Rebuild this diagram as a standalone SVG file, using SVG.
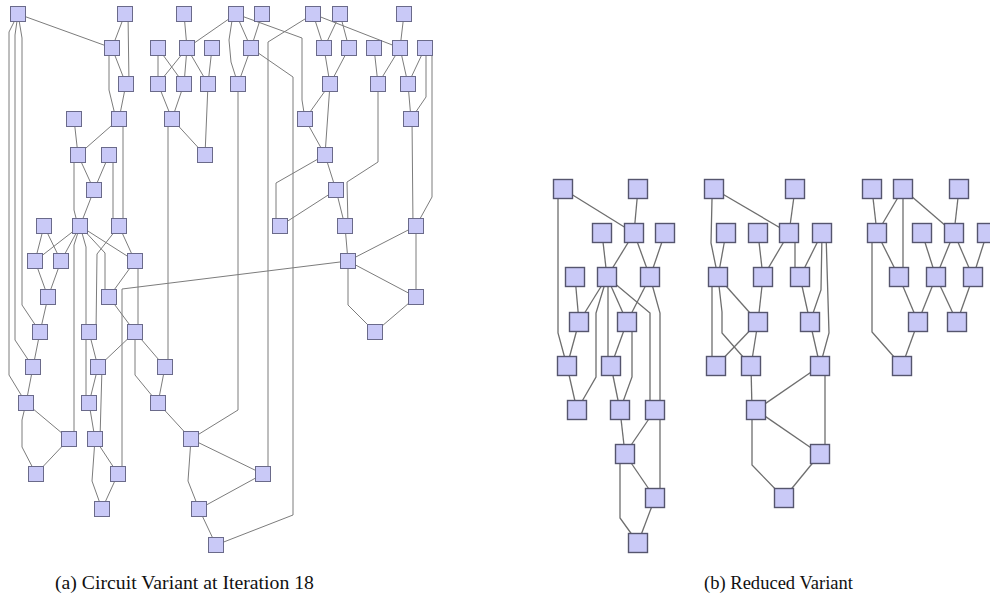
<svg xmlns="http://www.w3.org/2000/svg" width="990" height="609" viewBox="0 0 990 609">
<style>
.e{fill:none;stroke:#7c7c7c;stroke-width:1}
.eb{fill:none;stroke:#6e6e6e;stroke-width:1.3}
.n rect{fill:#c9c9f7;stroke:#6a6a8a;stroke-width:1}
.m rect{fill:#c9c9f7;stroke:#55556e;stroke-width:1.4}
.cap{font-family:"Liberation Serif","DejaVu Serif",serif;font-size:19px;fill:#111}
</style>
<rect width="990" height="609" fill="#fff"/>
<g id="edges-a" class="e">
<polyline points="18,14 112,48"/>
<polyline points="125,14 112,48"/>
<polyline points="128,14 129,84"/>
<polyline points="112,48 126,84"/>
<polyline points="109,48 109,90 116,119"/>
<polyline points="126,84 119,119"/>
<polyline points="74,119 78,155"/>
<polyline points="119,119 78,155"/>
<polyline points="123,119 123,226"/>
<polyline points="78,155 94,190"/>
<polyline points="109,155 94,190"/>
<polyline points="74,155 74,210 78,226"/>
<polyline points="113,155 113,226"/>
<polyline points="94,190 80,226"/>
<polyline points="184,14 187,48"/>
<polyline points="236,14 187,48"/>
<polyline points="236,14 251,48"/>
<polyline points="262,14 251,48"/>
<polyline points="233,14 229,40 231,62 238,84"/>
<polyline points="236,14 302,38 302,100 305,119"/>
<polyline points="313,14 268,42 268,474"/>
<polyline points="313,14 324,48"/>
<polyline points="340,14 324,48"/>
<polyline points="340,14 349,48"/>
<polyline points="313,14 400,48"/>
<polyline points="158,48 158,84"/>
<polyline points="158,48 184,84"/>
<polyline points="187,48 158,84"/>
<polyline points="187,48 184,84"/>
<polyline points="187,48 208,84"/>
<polyline points="212,48 208,84"/>
<polyline points="251,48 238,84"/>
<polyline points="251,48 293,77 293,515 216,545"/>
<polyline points="158,84 172,119"/>
<polyline points="184,84 172,119"/>
<polyline points="172,119 205,155"/>
<polyline points="208,84 205,155"/>
<polyline points="168,119 168,367"/>
<polyline points="238,84 238,410 191,439"/>
<polyline points="324,48 330,84"/>
<polyline points="349,48 330,84"/>
<polyline points="330,84 305,119"/>
<polyline points="330,84 325,155"/>
<polyline points="305,119 325,155"/>
<polyline points="325,155 336,190"/>
<polyline points="325,155 276,183 276,226"/>
<polyline points="336,190 280,226"/>
<polyline points="336,190 345,226"/>
<polyline points="374,48 378,84"/>
<polyline points="400,48 378,84"/>
<polyline points="404,14 400,48"/>
<polyline points="400,48 408,84"/>
<polyline points="425,48 408,84"/>
<polyline points="426,48 426,97 411,119"/>
<polyline points="408,84 411,119"/>
<polyline points="432,48 432,197 416,226"/>
<polyline points="412,119 413,226"/>
<polyline points="378,84 378,162 347,182 348,226"/>
<polyline points="345,226 348,261"/>
<polyline points="416,226 348,261"/>
<polyline points="416,226 416,297"/>
<polyline points="348,261 416,297"/>
<polyline points="348,261 348,305 375,332"/>
<polyline points="416,297 375,332"/>
<polyline points="348,261 122,289 122,474"/>
<polyline points="44,226 35,261"/>
<polyline points="44,226 61,261"/>
<polyline points="80,226 35,261"/>
<polyline points="80,226 61,261"/>
<polyline points="80,226 135,261"/>
<polyline points="80,226 74,245 74,431 69,439"/>
<polyline points="80,226 86,247 86,403"/>
<polyline points="80,226 105,253 105,297"/>
<polyline points="119,226 135,261"/>
<polyline points="119,226 97,254 96,332"/>
<polyline points="35,261 48,297"/>
<polyline points="61,261 48,297"/>
<polyline points="48,297 40,332"/>
<polyline points="40,332 33,367"/>
<polyline points="33,367 26,403"/>
<polyline points="26,403 69,439"/>
<polyline points="26,403 22,420 22,447 36,474"/>
<polyline points="69,439 36,474"/>
<polyline points="18,14 9,32 9,375 26,403"/>
<polyline points="18,14 15,35 15,340 33,367"/>
<polyline points="18,14 22,38 22,305 40,332"/>
<polyline points="135,261 109,297"/>
<polyline points="138,261 138,332"/>
<polyline points="109,297 135,332"/>
<polyline points="89,332 98,367"/>
<polyline points="135,332 98,367"/>
<polyline points="135,332 165,367"/>
<polyline points="135,332 135,375 158,403"/>
<polyline points="98,367 89,403"/>
<polyline points="102,367 100,439"/>
<polyline points="89,403 95,439"/>
<polyline points="95,439 118,474"/>
<polyline points="95,439 92,481 102,509"/>
<polyline points="118,474 102,509"/>
<polyline points="165,367 158,403"/>
<polyline points="158,403 191,439"/>
<polyline points="191,439 263,474"/>
<polyline points="191,439 188,481 199,509"/>
<polyline points="263,474 199,509"/>
<polyline points="199,509 216,545"/>
</g>
<g id="edges-b" class="eb">
<polyline points="563,189 558,199 558,333 567,366"/>
<polyline points="563,189 634,233"/>
<polyline points="638,189 634,233"/>
<polyline points="634,233 607,277"/>
<polyline points="634,233 650,277"/>
<polyline points="665,233 650,277"/>
<polyline points="602,233 607,277"/>
<polyline points="575,277 579,322"/>
<polyline points="607,277 579,322"/>
<polyline points="607,277 596,313 596,377 577,410"/>
<polyline points="608,277 608,366"/>
<polyline points="607,277 627,322"/>
<polyline points="607,277 650,313 650,410"/>
<polyline points="650,277 627,322"/>
<polyline points="650,277 660,313 660,410"/>
<polyline points="579,322 567,366"/>
<polyline points="627,322 611,366"/>
<polyline points="627,322 632,332 632,377 620,410"/>
<polyline points="567,366 577,410"/>
<polyline points="611,366 620,410"/>
<polyline points="620,410 625,454"/>
<polyline points="655,410 625,454"/>
<polyline points="625,454 655,498"/>
<polyline points="660,410 660,498"/>
<polyline points="625,454 620,464 620,518 638,543"/>
<polyline points="655,498 638,543"/>
<polyline points="714,189 712,199 711,243 718,277"/>
<polyline points="714,189 789,233"/>
<polyline points="795,189 789,233"/>
<polyline points="726,233 718,277"/>
<polyline points="758,233 763,277"/>
<polyline points="789,233 763,277"/>
<polyline points="795,233 795,277"/>
<polyline points="822,233 800,277"/>
<polyline points="822,233 821,290 810,322"/>
<polyline points="826,233 829,333 820,366"/>
<polyline points="712,277 712,366"/>
<polyline points="718,277 722,312 722,333 751,366"/>
<polyline points="718,277 758,322"/>
<polyline points="763,277 758,322"/>
<polyline points="758,322 716,366"/>
<polyline points="758,322 751,366"/>
<polyline points="800,277 810,322"/>
<polyline points="810,322 820,366"/>
<polyline points="751,366 752,410"/>
<polyline points="820,366 756,410"/>
<polyline points="825,366 825,454"/>
<polyline points="756,410 820,454"/>
<polyline points="752,410 752,465 784,498"/>
<polyline points="820,454 784,498"/>
<polyline points="872,189 877,233"/>
<polyline points="903,189 877,233"/>
<polyline points="903,189 903,277"/>
<polyline points="903,189 954,233"/>
<polyline points="959,189 954,233"/>
<polyline points="877,233 899,277"/>
<polyline points="872,233 872,332 902,366"/>
<polyline points="922,233 936,277"/>
<polyline points="954,233 936,277"/>
<polyline points="954,233 973,277"/>
<polyline points="987,233 973,277"/>
<polyline points="899,277 918,322"/>
<polyline points="936,277 918,322"/>
<polyline points="936,277 957,322"/>
<polyline points="973,277 957,322"/>
<polyline points="918,322 902,366"/>
</g>
<g class="n">
<g id="a_A1"><rect x="10.5" y="6.5" width="15" height="15"/></g>
<g id="a_A2"><rect x="117.5" y="6.5" width="15" height="15"/></g>
<g id="a_A3"><rect x="176.5" y="6.5" width="15" height="15"/></g>
<g id="a_A4"><rect x="228.5" y="6.5" width="15" height="15"/></g>
<g id="a_A5"><rect x="254.5" y="6.5" width="15" height="15"/></g>
<g id="a_A6"><rect x="305.5" y="6.5" width="15" height="15"/></g>
<g id="a_A7"><rect x="332.5" y="6.5" width="15" height="15"/></g>
<g id="a_A8"><rect x="396.5" y="6.5" width="15" height="15"/></g>
<g id="a_B1"><rect x="104.5" y="40.5" width="15" height="15"/></g>
<g id="a_B2"><rect x="150.5" y="40.5" width="15" height="15"/></g>
<g id="a_B3"><rect x="179.5" y="40.5" width="15" height="15"/></g>
<g id="a_B4"><rect x="204.5" y="40.5" width="15" height="15"/></g>
<g id="a_B5"><rect x="243.5" y="40.5" width="15" height="15"/></g>
<g id="a_B6"><rect x="316.5" y="40.5" width="15" height="15"/></g>
<g id="a_B7"><rect x="341.5" y="40.5" width="15" height="15"/></g>
<g id="a_B8"><rect x="366.5" y="40.5" width="15" height="15"/></g>
<g id="a_B9"><rect x="392.5" y="40.5" width="15" height="15"/></g>
<g id="a_B10"><rect x="417.5" y="40.5" width="15" height="15"/></g>
<g id="a_C1"><rect x="118.5" y="76.5" width="15" height="15"/></g>
<g id="a_C2"><rect x="150.5" y="76.5" width="15" height="15"/></g>
<g id="a_C3"><rect x="176.5" y="76.5" width="15" height="15"/></g>
<g id="a_C4"><rect x="200.5" y="76.5" width="15" height="15"/></g>
<g id="a_C5"><rect x="230.5" y="76.5" width="15" height="15"/></g>
<g id="a_C6"><rect x="322.5" y="76.5" width="15" height="15"/></g>
<g id="a_C7"><rect x="370.5" y="76.5" width="15" height="15"/></g>
<g id="a_C8"><rect x="400.5" y="76.5" width="15" height="15"/></g>
<g id="a_D1"><rect x="66.5" y="111.5" width="15" height="15"/></g>
<g id="a_D2"><rect x="111.5" y="111.5" width="15" height="15"/></g>
<g id="a_D3"><rect x="164.5" y="111.5" width="15" height="15"/></g>
<g id="a_D4"><rect x="297.5" y="111.5" width="15" height="15"/></g>
<g id="a_D5"><rect x="403.5" y="111.5" width="15" height="15"/></g>
<g id="a_E1"><rect x="70.5" y="147.5" width="15" height="15"/></g>
<g id="a_E2"><rect x="101.5" y="147.5" width="15" height="15"/></g>
<g id="a_E3"><rect x="197.5" y="147.5" width="15" height="15"/></g>
<g id="a_E4"><rect x="317.5" y="147.5" width="15" height="15"/></g>
<g id="a_F1"><rect x="86.5" y="182.5" width="15" height="15"/></g>
<g id="a_F2"><rect x="328.5" y="182.5" width="15" height="15"/></g>
<g id="a_G1"><rect x="36.5" y="218.5" width="15" height="15"/></g>
<g id="a_G2"><rect x="72.5" y="218.5" width="15" height="15"/></g>
<g id="a_G3"><rect x="111.5" y="218.5" width="15" height="15"/></g>
<g id="a_G4"><rect x="272.5" y="218.5" width="15" height="15"/></g>
<g id="a_G5"><rect x="337.5" y="218.5" width="15" height="15"/></g>
<g id="a_G6"><rect x="408.5" y="218.5" width="15" height="15"/></g>
<g id="a_H1"><rect x="27.5" y="253.5" width="15" height="15"/></g>
<g id="a_H2"><rect x="53.5" y="253.5" width="15" height="15"/></g>
<g id="a_H3"><rect x="127.5" y="253.5" width="15" height="15"/></g>
<g id="a_H4"><rect x="340.5" y="253.5" width="15" height="15"/></g>
<g id="a_I1"><rect x="40.5" y="289.5" width="15" height="15"/></g>
<g id="a_I2"><rect x="101.5" y="289.5" width="15" height="15"/></g>
<g id="a_I3"><rect x="408.5" y="289.5" width="15" height="15"/></g>
<g id="a_J1"><rect x="32.5" y="324.5" width="15" height="15"/></g>
<g id="a_J2"><rect x="81.5" y="324.5" width="15" height="15"/></g>
<g id="a_J3"><rect x="127.5" y="324.5" width="15" height="15"/></g>
<g id="a_J4"><rect x="367.5" y="324.5" width="15" height="15"/></g>
<g id="a_K1"><rect x="25.5" y="359.5" width="15" height="15"/></g>
<g id="a_K2"><rect x="90.5" y="359.5" width="15" height="15"/></g>
<g id="a_K3"><rect x="157.5" y="359.5" width="15" height="15"/></g>
<g id="a_L1"><rect x="18.5" y="395.5" width="15" height="15"/></g>
<g id="a_L2"><rect x="81.5" y="395.5" width="15" height="15"/></g>
<g id="a_L3"><rect x="150.5" y="395.5" width="15" height="15"/></g>
<g id="a_M1"><rect x="61.5" y="431.5" width="15" height="15"/></g>
<g id="a_M2"><rect x="87.5" y="431.5" width="15" height="15"/></g>
<g id="a_M3"><rect x="183.5" y="431.5" width="15" height="15"/></g>
<g id="a_N1"><rect x="28.5" y="466.5" width="15" height="15"/></g>
<g id="a_N2"><rect x="110.5" y="466.5" width="15" height="15"/></g>
<g id="a_N3"><rect x="255.5" y="466.5" width="15" height="15"/></g>
<g id="a_O1"><rect x="94.5" y="501.5" width="15" height="15"/></g>
<g id="a_O2"><rect x="191.5" y="501.5" width="15" height="15"/></g>
<g id="a_P1"><rect x="208.5" y="537.5" width="15" height="15"/></g>
</g>
<g class="m">
<g id="b1"><rect x="553.5" y="179.5" width="19" height="19"/></g>
<g id="b2"><rect x="628.5" y="179.5" width="19" height="19"/></g>
<g id="b3"><rect x="592.5" y="223.5" width="19" height="19"/></g>
<g id="b4"><rect x="624.5" y="223.5" width="19" height="19"/></g>
<g id="b5"><rect x="655.5" y="223.5" width="19" height="19"/></g>
<g id="b6"><rect x="565.5" y="267.5" width="19" height="19"/></g>
<g id="b7"><rect x="597.5" y="267.5" width="19" height="19"/></g>
<g id="b8"><rect x="640.5" y="267.5" width="19" height="19"/></g>
<g id="b9"><rect x="569.5" y="312.5" width="19" height="19"/></g>
<g id="b10"><rect x="617.5" y="312.5" width="19" height="19"/></g>
<g id="b11"><rect x="557.5" y="356.5" width="19" height="19"/></g>
<g id="b12"><rect x="601.5" y="356.5" width="19" height="19"/></g>
<g id="b13"><rect x="567.5" y="400.5" width="19" height="19"/></g>
<g id="b14"><rect x="610.5" y="400.5" width="19" height="19"/></g>
<g id="b15"><rect x="645.5" y="400.5" width="19" height="19"/></g>
<g id="b16"><rect x="615.5" y="444.5" width="19" height="19"/></g>
<g id="b17"><rect x="645.5" y="488.5" width="19" height="19"/></g>
<g id="b18"><rect x="628.5" y="533.5" width="19" height="19"/></g>
<g id="c1"><rect x="704.5" y="179.5" width="19" height="19"/></g>
<g id="c2"><rect x="785.5" y="179.5" width="19" height="19"/></g>
<g id="c3"><rect x="716.5" y="223.5" width="19" height="19"/></g>
<g id="c4"><rect x="748.5" y="223.5" width="19" height="19"/></g>
<g id="c5"><rect x="779.5" y="223.5" width="19" height="19"/></g>
<g id="c6"><rect x="812.5" y="223.5" width="19" height="19"/></g>
<g id="c7"><rect x="708.5" y="267.5" width="19" height="19"/></g>
<g id="c8"><rect x="753.5" y="267.5" width="19" height="19"/></g>
<g id="c9"><rect x="790.5" y="267.5" width="19" height="19"/></g>
<g id="c10"><rect x="748.5" y="312.5" width="19" height="19"/></g>
<g id="c11"><rect x="800.5" y="312.5" width="19" height="19"/></g>
<g id="c12"><rect x="706.5" y="356.5" width="19" height="19"/></g>
<g id="c13"><rect x="741.5" y="356.5" width="19" height="19"/></g>
<g id="c14"><rect x="810.5" y="356.5" width="19" height="19"/></g>
<g id="c15"><rect x="746.5" y="400.5" width="19" height="19"/></g>
<g id="c16"><rect x="810.5" y="444.5" width="19" height="19"/></g>
<g id="c17"><rect x="774.5" y="488.5" width="19" height="19"/></g>
<g id="d1"><rect x="862.5" y="179.5" width="19" height="19"/></g>
<g id="d2"><rect x="893.5" y="179.5" width="19" height="19"/></g>
<g id="d3"><rect x="949.5" y="179.5" width="19" height="19"/></g>
<g id="d4"><rect x="867.5" y="223.5" width="19" height="19"/></g>
<g id="d5"><rect x="912.5" y="223.5" width="19" height="19"/></g>
<g id="d6"><rect x="944.5" y="223.5" width="19" height="19"/></g>
<g id="d7"><rect x="977.5" y="223.5" width="19" height="19"/></g>
<g id="d8"><rect x="889.5" y="267.5" width="19" height="19"/></g>
<g id="d9"><rect x="926.5" y="267.5" width="19" height="19"/></g>
<g id="d10"><rect x="963.5" y="267.5" width="19" height="19"/></g>
<g id="d11"><rect x="908.5" y="312.5" width="19" height="19"/></g>
<g id="d12"><rect x="947.5" y="312.5" width="19" height="19"/></g>
<g id="d13"><rect x="892.5" y="356.5" width="19" height="19"/></g>
</g>
<text class="cap" x="55" y="589" textLength="259" lengthAdjust="spacingAndGlyphs">(a) Circuit Variant at Iteration 18</text>
<text class="cap" x="704" y="589" textLength="149" lengthAdjust="spacingAndGlyphs">(b) Reduced Variant</text>
</svg>
